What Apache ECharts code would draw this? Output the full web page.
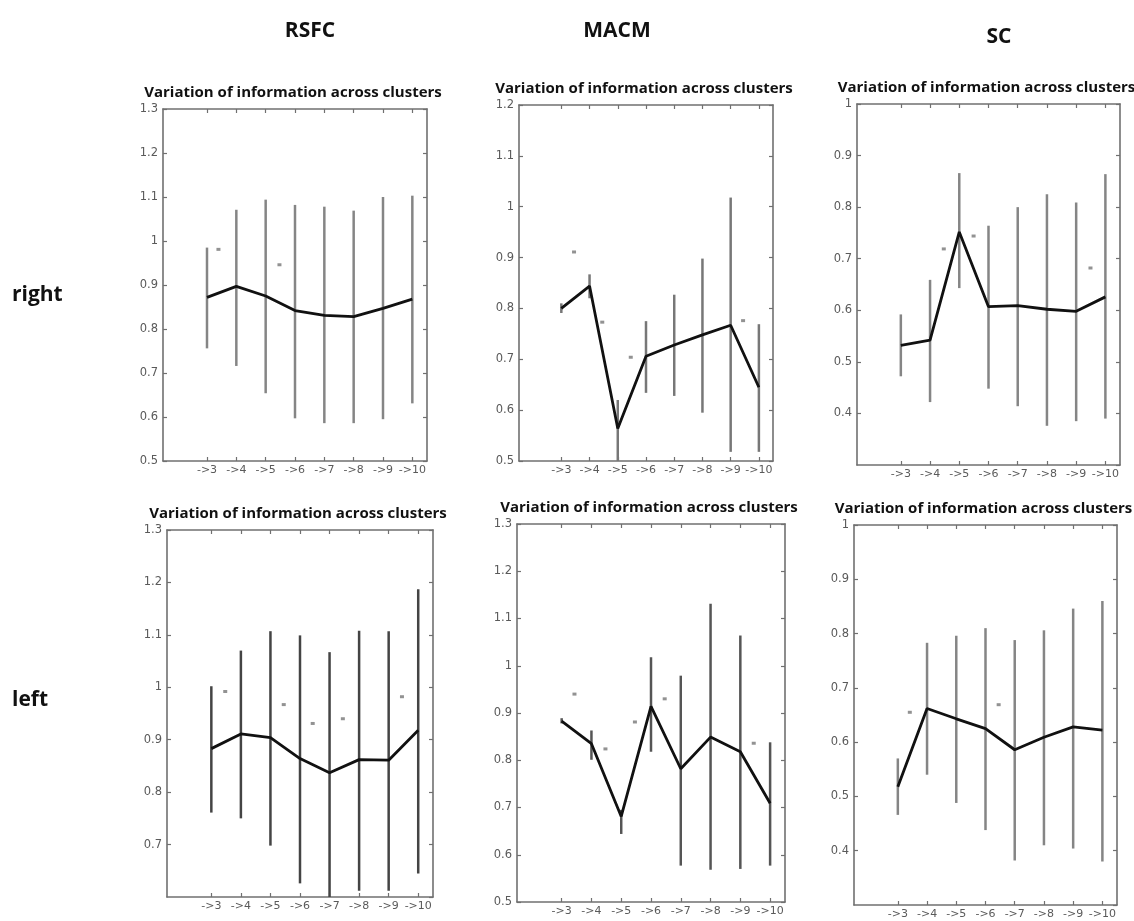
<!DOCTYPE html>
<html>
<head>
<meta charset="utf-8">
<script src="https://cdn.jsdelivr.net/npm/echarts@6/dist/echarts.min.js"></script>
<style>
    html, body {margin: 0; padding: 0; background: #fff;}
    #main {width: 1134px; height: 921px;}
</style>
</head>
<body>
<div id="main"></div>
<script>
// tick labels on the x axis (cluster transitions), placed at x = 2..9
var tickLabels = ['->3', '->4', '->5', '->6', '->7', '->8', '->9', '->10'];
var tickPos = [2, 3, 4, 5, 6, 7, 8, 9];

// RSFC, right
var rsfcRightMean = [0.872, 0.897, 0.875, 0.842, 0.831, 0.828, 0.847, 0.868];
var rsfcRightLow = [0.756, 0.716, 0.654, 0.597, 0.586, 0.586, 0.595, 0.631];
var rsfcRightHigh = [0.985, 1.071, 1.094, 1.082, 1.078, 1.069, 1.100, 1.103];
var rsfcRightStars = [[2.39, 0.981], [4.47, 0.946]];

// MACM, right
var macmRightMean = [0.800, 0.844, 0.564, 0.706, 0.728, 0.748, 0.767, 0.645];
var macmRightLow = [0.791, 0.820, 0.500, 0.634, 0.628, 0.595, 0.518, 0.518];
var macmRightHigh = [0.810, 0.867, 0.620, 0.775, 0.827, 0.898, 1.018, 0.769];
var macmRightStars = [[2.45, 0.911], [3.45, 0.773], [4.46, 0.704], [8.44, 0.776]];

// SC, right
var scRightMean = [0.532, 0.542, 0.752, 0.607, 0.609, 0.602, 0.598, 0.626];
var scRightLow = [0.472, 0.422, 0.643, 0.448, 0.414, 0.376, 0.385, 0.390];
var scRightHigh = [0.592, 0.659, 0.866, 0.764, 0.800, 0.825, 0.809, 0.864];
var scRightStars = [[3.47, 0.719], [4.49, 0.744], [8.49, 0.682]];

// RSFC, left
var rsfcLeftMean = [0.883, 0.911, 0.904, 0.864, 0.837, 0.862, 0.861, 0.918];
var rsfcLeftLow = [0.761, 0.750, 0.698, 0.626, 0.600, 0.612, 0.612, 0.645];
var rsfcLeftHigh = [1.002, 1.070, 1.107, 1.099, 1.067, 1.108, 1.107, 1.187];
var rsfcLeftStars = [[2.47, 0.992], [4.45, 0.967], [5.43, 0.931], [6.45, 0.940], [8.45, 0.982]];

// MACM, left
var macmLeftMean = [0.883, 0.835, 0.681, 0.914, 0.782, 0.849, 0.818, 0.709];
var macmLeftLow = [0.878, 0.801, 0.644, 0.818, 0.577, 0.568, 0.570, 0.577];
var macmLeftHigh = [0.889, 0.863, 0.695, 1.018, 0.979, 1.131, 1.064, 0.838];
var macmLeftStars = [[2.43, 0.940], [3.47, 0.824], [4.46, 0.881], [5.46, 0.930], [8.45, 0.836]];

// SC, left
var scLeftMean = [0.518, 0.662, 0.643, 0.625, 0.586, 0.609, 0.628, 0.622];
var scLeftLow = [0.466, 0.540, 0.488, 0.438, 0.382, 0.410, 0.404, 0.380];
var scLeftHigh = [0.570, 0.783, 0.796, 0.810, 0.788, 0.806, 0.846, 0.860];
var scLeftStars = [[2.41, 0.655], [5.45, 0.669]];

var panelTitle = 'Variation of information across clusters';
var colHeaders = ['RSFC', 'MACM', 'SC'];
var rowHeaders = ['right', 'left'];

// one entry per panel: layout + y range + data
var panels = [
    {box: [163, 109, 264, 352], ymin: 0.5, ymax: 1.3, hideMin: false, bar: '#858585',
        mean: rsfcRightMean, low: rsfcRightLow, high: rsfcRightHigh, stars: rsfcRightStars},
    {box: [519, 105, 254, 356], ymin: 0.5, ymax: 1.2, hideMin: false, bar: '#777',
        mean: macmRightMean, low: macmRightLow, high: macmRightHigh, stars: macmRightStars},
    {box: [857, 104, 263, 361], ymin: 0.3, ymax: 1.0, hideMin: true, bar: '#858585',
        mean: scRightMean, low: scRightLow, high: scRightHigh, stars: scRightStars},
    {box: [167, 530, 266, 367], ymin: 0.6, ymax: 1.3, hideMin: true, bar: '#444',
        mean: rsfcLeftMean, low: rsfcLeftLow, high: rsfcLeftHigh, stars: rsfcLeftStars},
    {box: [517, 524, 268, 378], ymin: 0.5, ymax: 1.3, hideMin: false, bar: '#555',
        mean: macmLeftMean, low: macmLeftLow, high: macmLeftHigh, stars: macmLeftStars},
    {box: [854, 525, 263, 380], ymin: 0.3, ymax: 1.0, hideMin: true, bar: '#858585',
        mean: scLeftMean, low: scLeftLow, high: scLeftHigh, stars: scLeftStars}
];

var axisColor = '#707070';
var labelColor = '#5a5a5a';

var grids = [], xAxes = [], yAxes = [], series = [], graphics = [];

panels.forEach(function (p, i) {
    grids.push({left: p.box[0], top: p.box[1], width: p.box[2], height: p.box[3], show: false});

    // bottom + top x axes (top only mirrors ticks)
    ['bottom', 'top'].forEach(function (pos) {
        xAxes.push({
            type: 'value', gridIndex: i, position: pos, min: 0.5, max: 9.5,
            axisLine: {show: true, onZero: false, lineStyle: {color: axisColor, width: 1.6}},
            axisTick: {show: true, inside: true, length: 4, customValues: tickPos,
                lineStyle: {color: axisColor, width: 1.2}},
            axisLabel: {show: pos === 'bottom', customValues: tickPos, margin: 4,
                color: labelColor, fontSize: 11, fontFamily: 'DejaVu Sans',
                formatter: function (v) { return tickLabels[Math.round(v) - 2]; }},
            splitLine: {show: false}
        });
    });
    // left + right y axes (right only mirrors ticks)
    ['left', 'right'].forEach(function (pos) {
        yAxes.push({
            type: 'value', gridIndex: i, position: pos, min: p.ymin, max: p.ymax, interval: 0.1,
            axisLine: {show: true, onZero: false, lineStyle: {color: axisColor, width: 1.6}},
            axisTick: {show: true, inside: true, length: 4, lineStyle: {color: axisColor, width: 1.2}},
            axisLabel: {show: pos === 'left', margin: 5, color: labelColor, fontSize: 11.5,
                fontFamily: 'DejaVu Sans', showMinLabel: !p.hideMin},
            splitLine: {show: false}
        });
    });

    var barData = p.mean.map(function (m, k) { return [tickPos[k], p.low[k], p.high[k]]; });
    var lineData = p.mean.map(function (m, k) { return [tickPos[k], m]; });

    // error bars
    series.push({
        type: 'custom', xAxisIndex: 2 * i, yAxisIndex: 2 * i, silent: true,
        data: barData,
        encode: {x: 0, y: [1, 2]},
        renderItem: function (params, api) {
            var a = api.coord([api.value(0), api.value(1)]);
            var b = api.coord([api.value(0), api.value(2)]);
            return {
                type: 'line',
                shape: {x1: a[0], y1: a[1], x2: b[0], y2: b[1]},
                style: {stroke: p.bar, lineWidth: 2.5}
            };
        }
    });
    // mean line
    series.push({
        type: 'line', xAxisIndex: 2 * i, yAxisIndex: 2 * i, silent: true,
        data: lineData, showSymbol: false, symbol: 'none',
        lineStyle: {color: '#111', width: 2.8}, z: 5
    });
    // significance marks
    series.push({
        type: 'scatter', xAxisIndex: 2 * i, yAxisIndex: 2 * i, silent: true,
        data: p.stars, symbol: 'rect', symbolSize: [4, 3],
        itemStyle: {color: '#777'}
    });

    // panel title
    graphics.push({
        type: 'text', x: p.box[0] + p.box[2] / 2 - 2, y: p.box[1] - 16,
        style: {text: panelTitle, fill: '#111', font: 'bold 15px "Open Sans"', align: 'center', verticalAlign: 'middle'}
    });
});

// column and row headers
var colX = [310, 617, 999];
var colY = [31, 31, 37];
colHeaders.forEach(function (t, k) {
    graphics.push({
        type: 'text', x: colX[k], y: colY[k],
        style: {text: t, fill: '#111', font: 'bold 21px "Open Sans"', align: 'center', verticalAlign: 'middle'}
    });
});
var rowY = [295, 700];
rowHeaders.forEach(function (t, k) {
    graphics.push({
        type: 'text', x: 12, y: rowY[k],
        style: {text: t, fill: '#111', font: 'bold 21px "Open Sans"', align: 'left', verticalAlign: 'middle'}
    });
});

var myChart = echarts.init(document.getElementById('main'));
myChart.setOption({
    animation: false,
    backgroundColor: '#fff',
    grid: grids,
    xAxis: xAxes,
    yAxis: yAxes,
    series: series,
    graphic: graphics
});
</script>
</body>
</html>
